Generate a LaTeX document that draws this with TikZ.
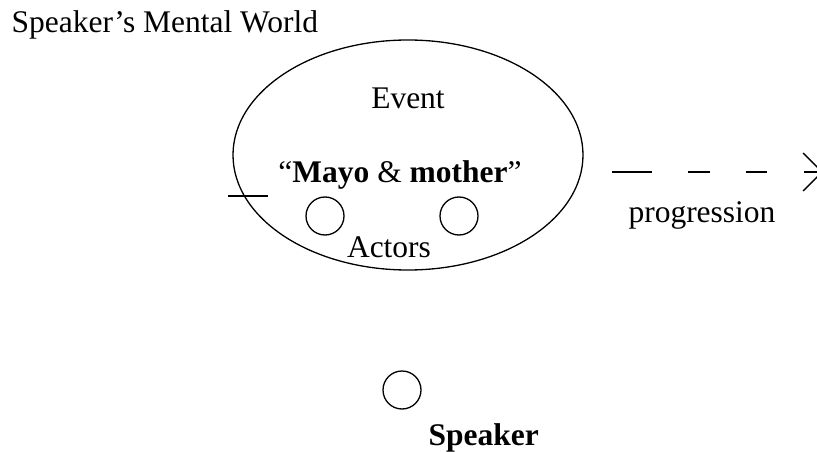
\documentclass[tikz,border=0pt]{standalone}
\usepackage{fontspec}
\setmainfont{Liberation Serif}
\usetikzlibrary{shapes.geometric,arrows.meta}
\begin{document}
\begin{tikzpicture}[x=1pt,y=-1pt,line width=1.3pt,
  txt/.style={inner sep=0pt,font=\fontsize{31.5}{36}\selectfont},
  actor/.style={draw,circle,minimum size=38pt,inner sep=0pt}]
\useasboundingbox (0,0) rectangle (817,452);
\node[txt,anchor=base west] (title) at (11,33) {Speaker’s Mental World};
\node[draw,ellipse,minimum width=350pt,minimum height=230pt,inner sep=0pt] (event) at (408,155) {};
\node[txt,anchor=base] (ev) at (408,108) {Event};
\node[txt,anchor=base] (mm) at (400,182) {“\textbf{Mayo} \& \textbf{mother}”};
\node[actor] (a1) at (325,216) {};
\node[actor] (a2) at (459,216) {};
\node[txt,anchor=base] (actors) at (389,257) {Actors};
\coordinate (l1) at (228,196);
\coordinate (l2) at (268,196);
\draw (l1) -- (l2);
\coordinate (p1) at (612,172);
\coordinate (p2) at (823,172);
\draw[dash pattern=on 40pt off 36pt on 22pt off 36pt on 21pt off 37pt on 80pt,
  -{Straight Barb[length=19pt,width=38pt,line width=1.3pt]}] (p1) -- (p2);
\node[txt,anchor=base] (prog) at (702,222) {progression};
\node[actor] (sp) at (402,390) {};
\node[txt,anchor=base west] (spk) at (428,445) {\textbf{Speaker}};
\end{tikzpicture}
\end{document}
